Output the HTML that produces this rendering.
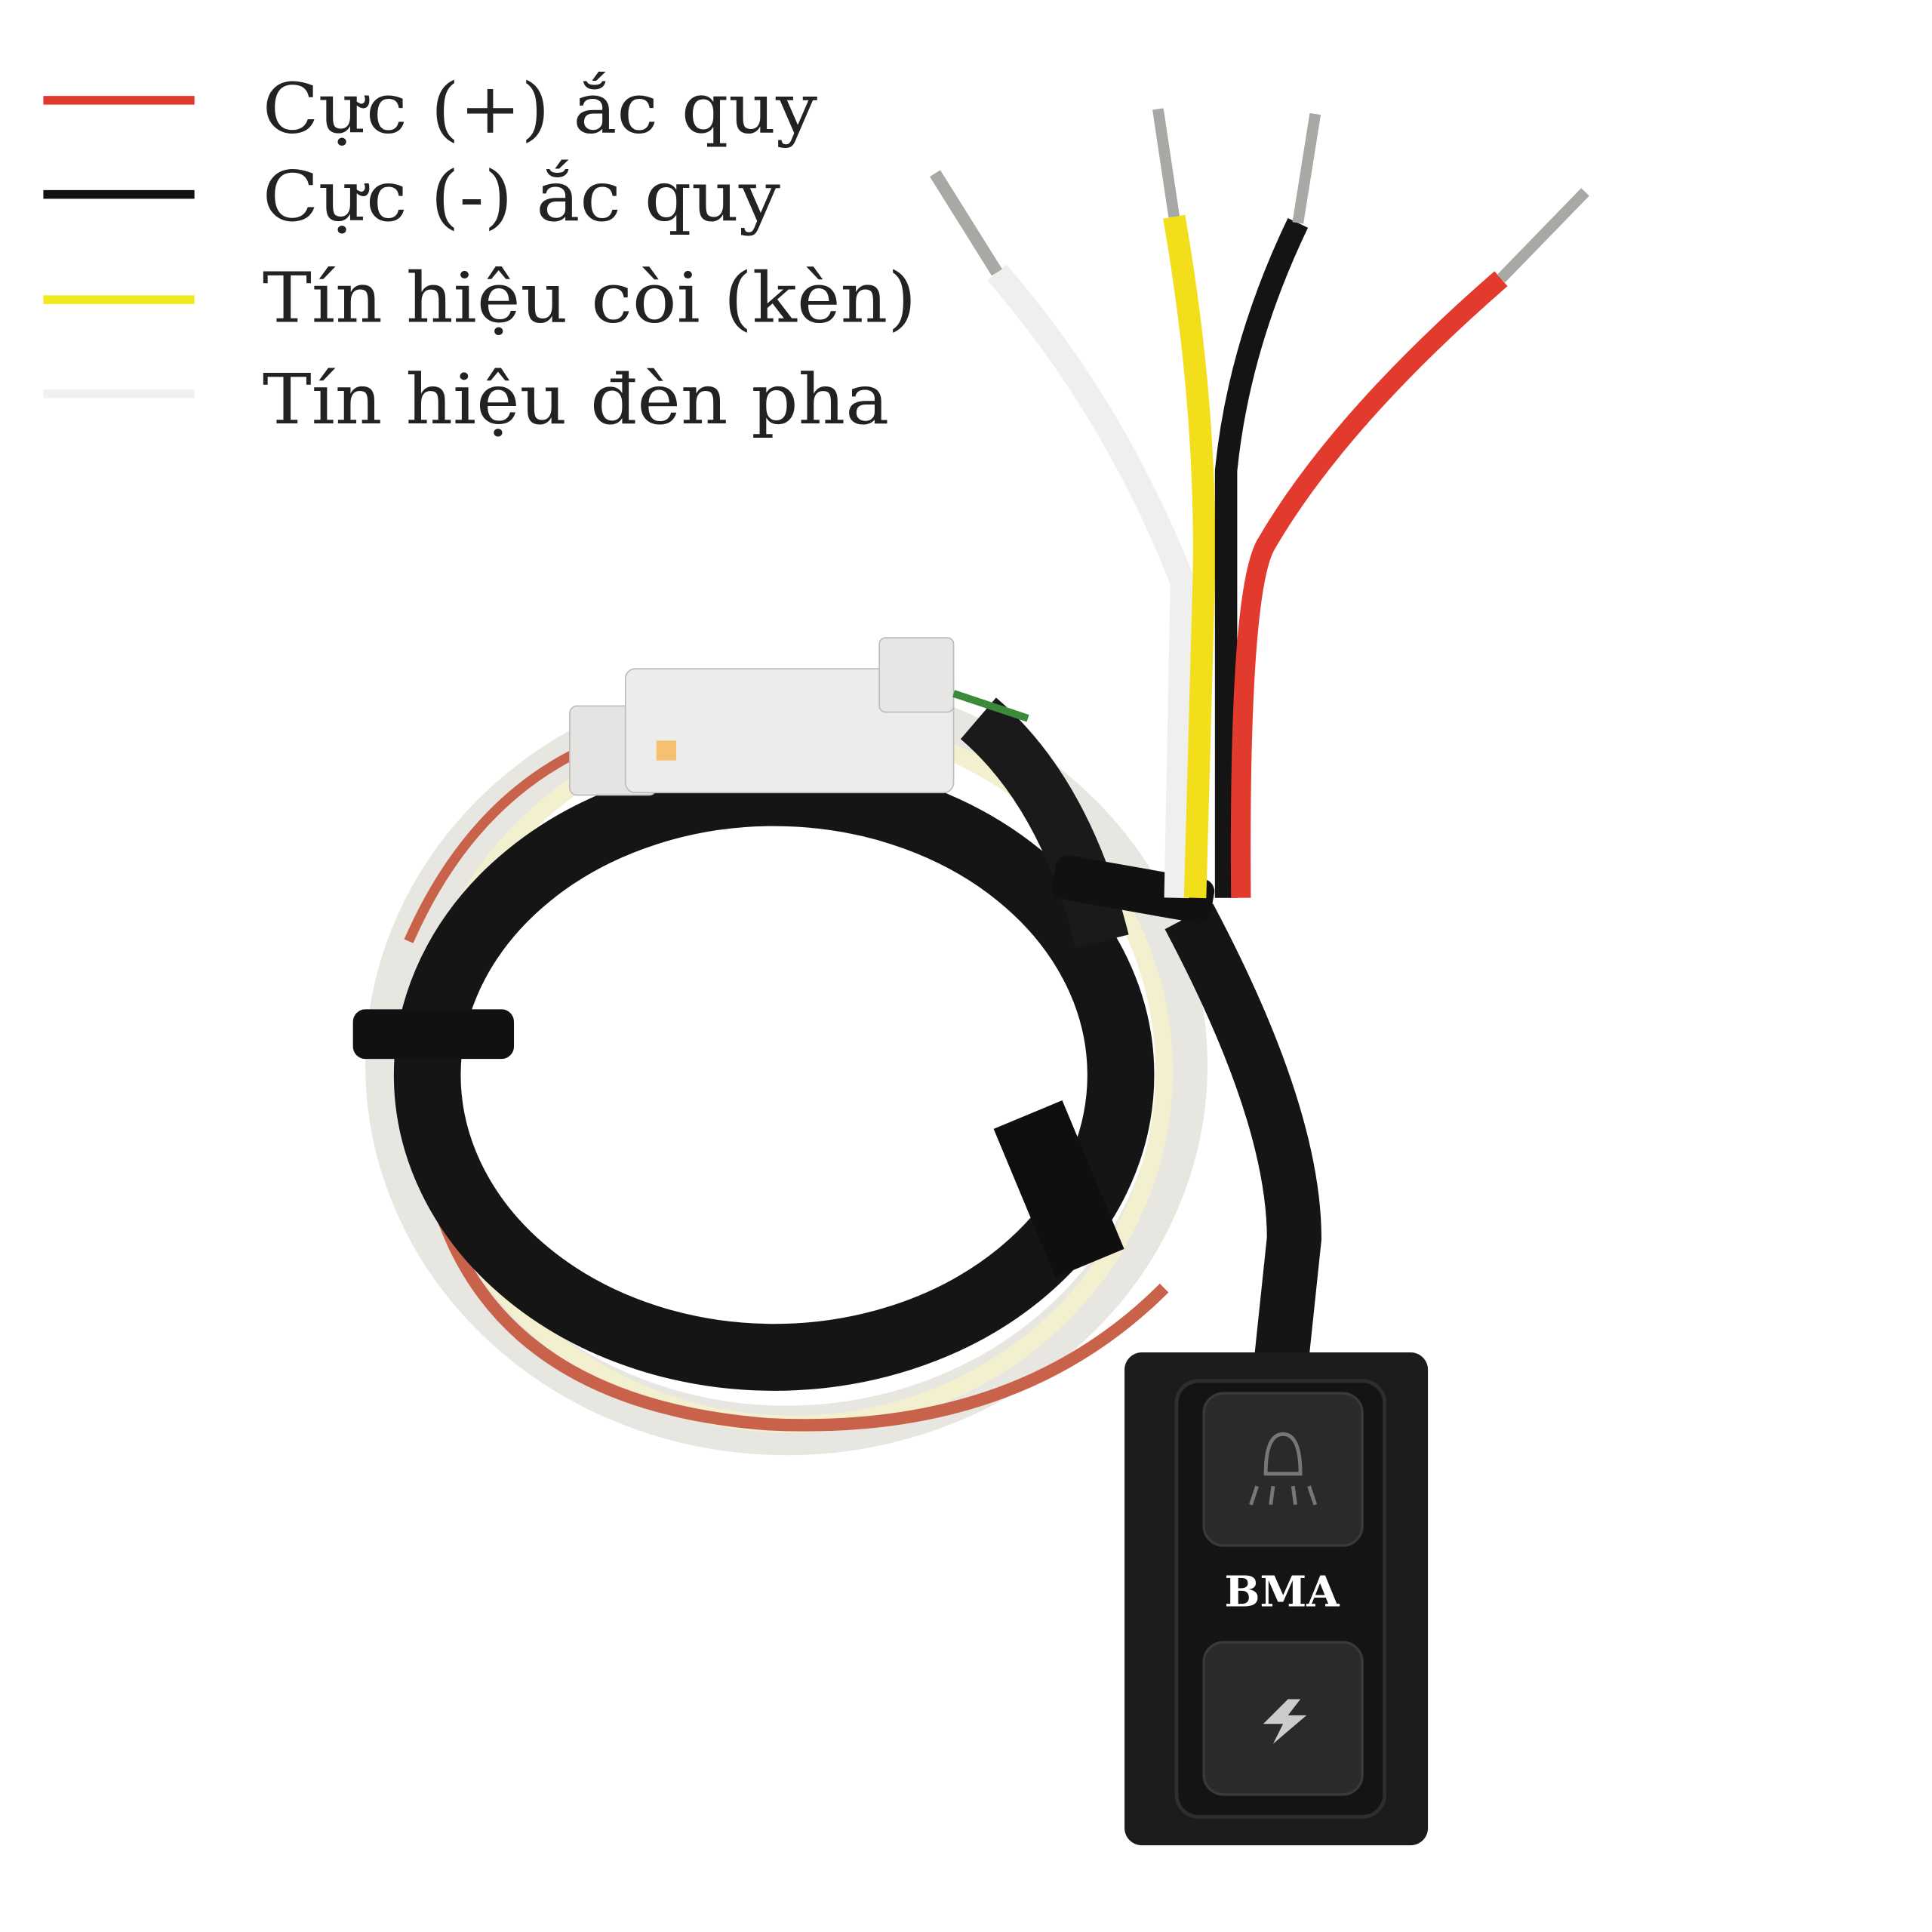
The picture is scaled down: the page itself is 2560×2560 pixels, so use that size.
<!DOCTYPE html>
<html><head><meta charset="utf-8"><style>
html,body{margin:0;padding:0;background:#fff;}
svg{display:block;}
text{font-family:"DejaVu Serif","Liberation Serif",serif;}
</style></head><body>
<svg width="2560" height="2560" viewBox="0 0 1560 1560" xmlns="http://www.w3.org/2000/svg">
<rect width="1560" height="1560" fill="#fff"/>
<!-- legend -->
<line x1="35" y1="81" x2="157" y2="81" stroke="#e03a2e" stroke-width="7"/>
<line x1="35" y1="157" x2="157" y2="157" stroke="#111" stroke-width="7"/>
<line x1="35" y1="242" x2="157" y2="242" stroke="#f2e81e" stroke-width="7"/>
<line x1="35" y1="318" x2="157" y2="318" stroke="#f0f0f0" stroke-width="7"/>
<g font-size="56" fill="#222">
<text x="212" y="107" textLength="448" lengthAdjust="spacingAndGlyphs">Cực (+) ắc quy</text>
<text x="212" y="178" textLength="418" lengthAdjust="spacingAndGlyphs">Cực (-) ắc quy</text>
<text x="212" y="260" textLength="528" lengthAdjust="spacingAndGlyphs">Tín hiệu còi (kèn)</text>
<text x="212" y="342" textLength="506" lengthAdjust="spacingAndGlyphs">Tín hiệu đèn pha</text>
</g>
<!-- coil wires -->
<ellipse cx="635" cy="860" rx="320" ry="295" fill="none" stroke="#e8e6e0" stroke-width="40"/>
<ellipse cx="640" cy="865" rx="300" ry="285" fill="none" stroke="#f3f0d0" stroke-width="14"/>
<path d="M340,900 Q360,1130 620,1150 Q820,1160 940,1040" fill="none" stroke="#c9624a" stroke-width="10"/>
<path d="M330,760 Q400,600 560,580" fill="none" stroke="#c9624a" stroke-width="8"/>
<!-- black cable coil -->
<ellipse cx="625" cy="868" rx="280" ry="228" fill="none" stroke="#151515" stroke-width="54"/>
<!-- heat shrink sections -->
<path d="M790,580 Q860,640 890,760" fill="none" stroke="#1a1a1a" stroke-width="44"/>
<path d="M830,900 L880,1020" fill="none" stroke="#0f0f0f" stroke-width="60"/>
<!-- cable to module -->
<path d="M960,740 Q1045,900 1045,1000 L1035,1095" fill="none" stroke="#151515" stroke-width="44"/>
<!-- cable ties -->
<rect x="285" y="815" width="130" height="40" rx="10" fill="#111"/>
<rect x="850" y="700" width="130" height="36" rx="10" fill="#111" transform="rotate(10 915 718)"/>
<!-- connector -->
<rect x="460" y="570" width="70" height="72" rx="6" fill="#e4e4e2" stroke="#bbb"/>
<rect x="505" y="540" width="265" height="100" rx="8" fill="#ececea" stroke="#bbb"/>
<rect x="710" y="515" width="60" height="60" rx="5" fill="#e6e6e4" stroke="#bbb"/>
<rect x="530" y="598" width="16" height="16" fill="#f5c070"/>
<path d="M770,560 L830,580" stroke="#3a8a3a" stroke-width="6"/>
<!-- four wires -->
<path d="M805,220 Q900,330 955,470 L950,725" fill="none" stroke="#efefed" stroke-width="20"/>
<path d="M948,175 Q975,330 972,470 L965,725" fill="none" stroke="#f2de1a" stroke-width="18"/>
<path d="M1048,180 Q1000,280 990,380 L990,725" fill="none" stroke="#141414" stroke-width="18"/>
<path d="M1212,225 Q1080,340 1022,440 Q1000,480 1002,725" fill="none" stroke="#e23b2e" stroke-width="16"/>
<!-- bare tips -->
<path d="M755,140 L805,220" stroke="#a8a8a4" stroke-width="10"/>
<path d="M935,88 L948,175" stroke="#a8a8a4" stroke-width="9"/>
<path d="M1062,92 L1048,180" stroke="#a8a8a4" stroke-width="9"/>
<path d="M1280,155 L1212,225" stroke="#a8a8a4" stroke-width="9"/>
<!-- module -->
<rect x="908" y="1092" width="245" height="398" rx="14" fill="#1c1c1c"/>
<rect x="950" y="1115" width="168" height="352" rx="18" fill="#141414" stroke="#2e2e2e" stroke-width="3"/>
<rect x="972" y="1125" width="128" height="123" rx="16" fill="#2a2a2a" stroke="#3a3a3a" stroke-width="2"/>
<rect x="972" y="1326" width="128" height="123" rx="16" fill="#2a2a2a" stroke="#3a3a3a" stroke-width="2"/>
<text x="1035" y="1297" font-size="34" font-weight="bold" fill="#fff" text-anchor="middle">BMA</text>
<path d="M1022,1190 Q1022,1158 1036,1158 Q1050,1158 1050,1190 Z" fill="none" stroke="#777" stroke-width="3"/>
<path d="M1015,1200 L1010,1215 M1028,1200 L1026,1215 M1044,1200 L1046,1215 M1057,1200 L1062,1215" stroke="#777" stroke-width="3"/>
<path d="M1040,1372 L1020,1392 L1036,1392 L1028,1408 L1055,1385 L1040,1385 L1050,1372 Z" fill="#ccc"/>
</svg>
</body></html>
